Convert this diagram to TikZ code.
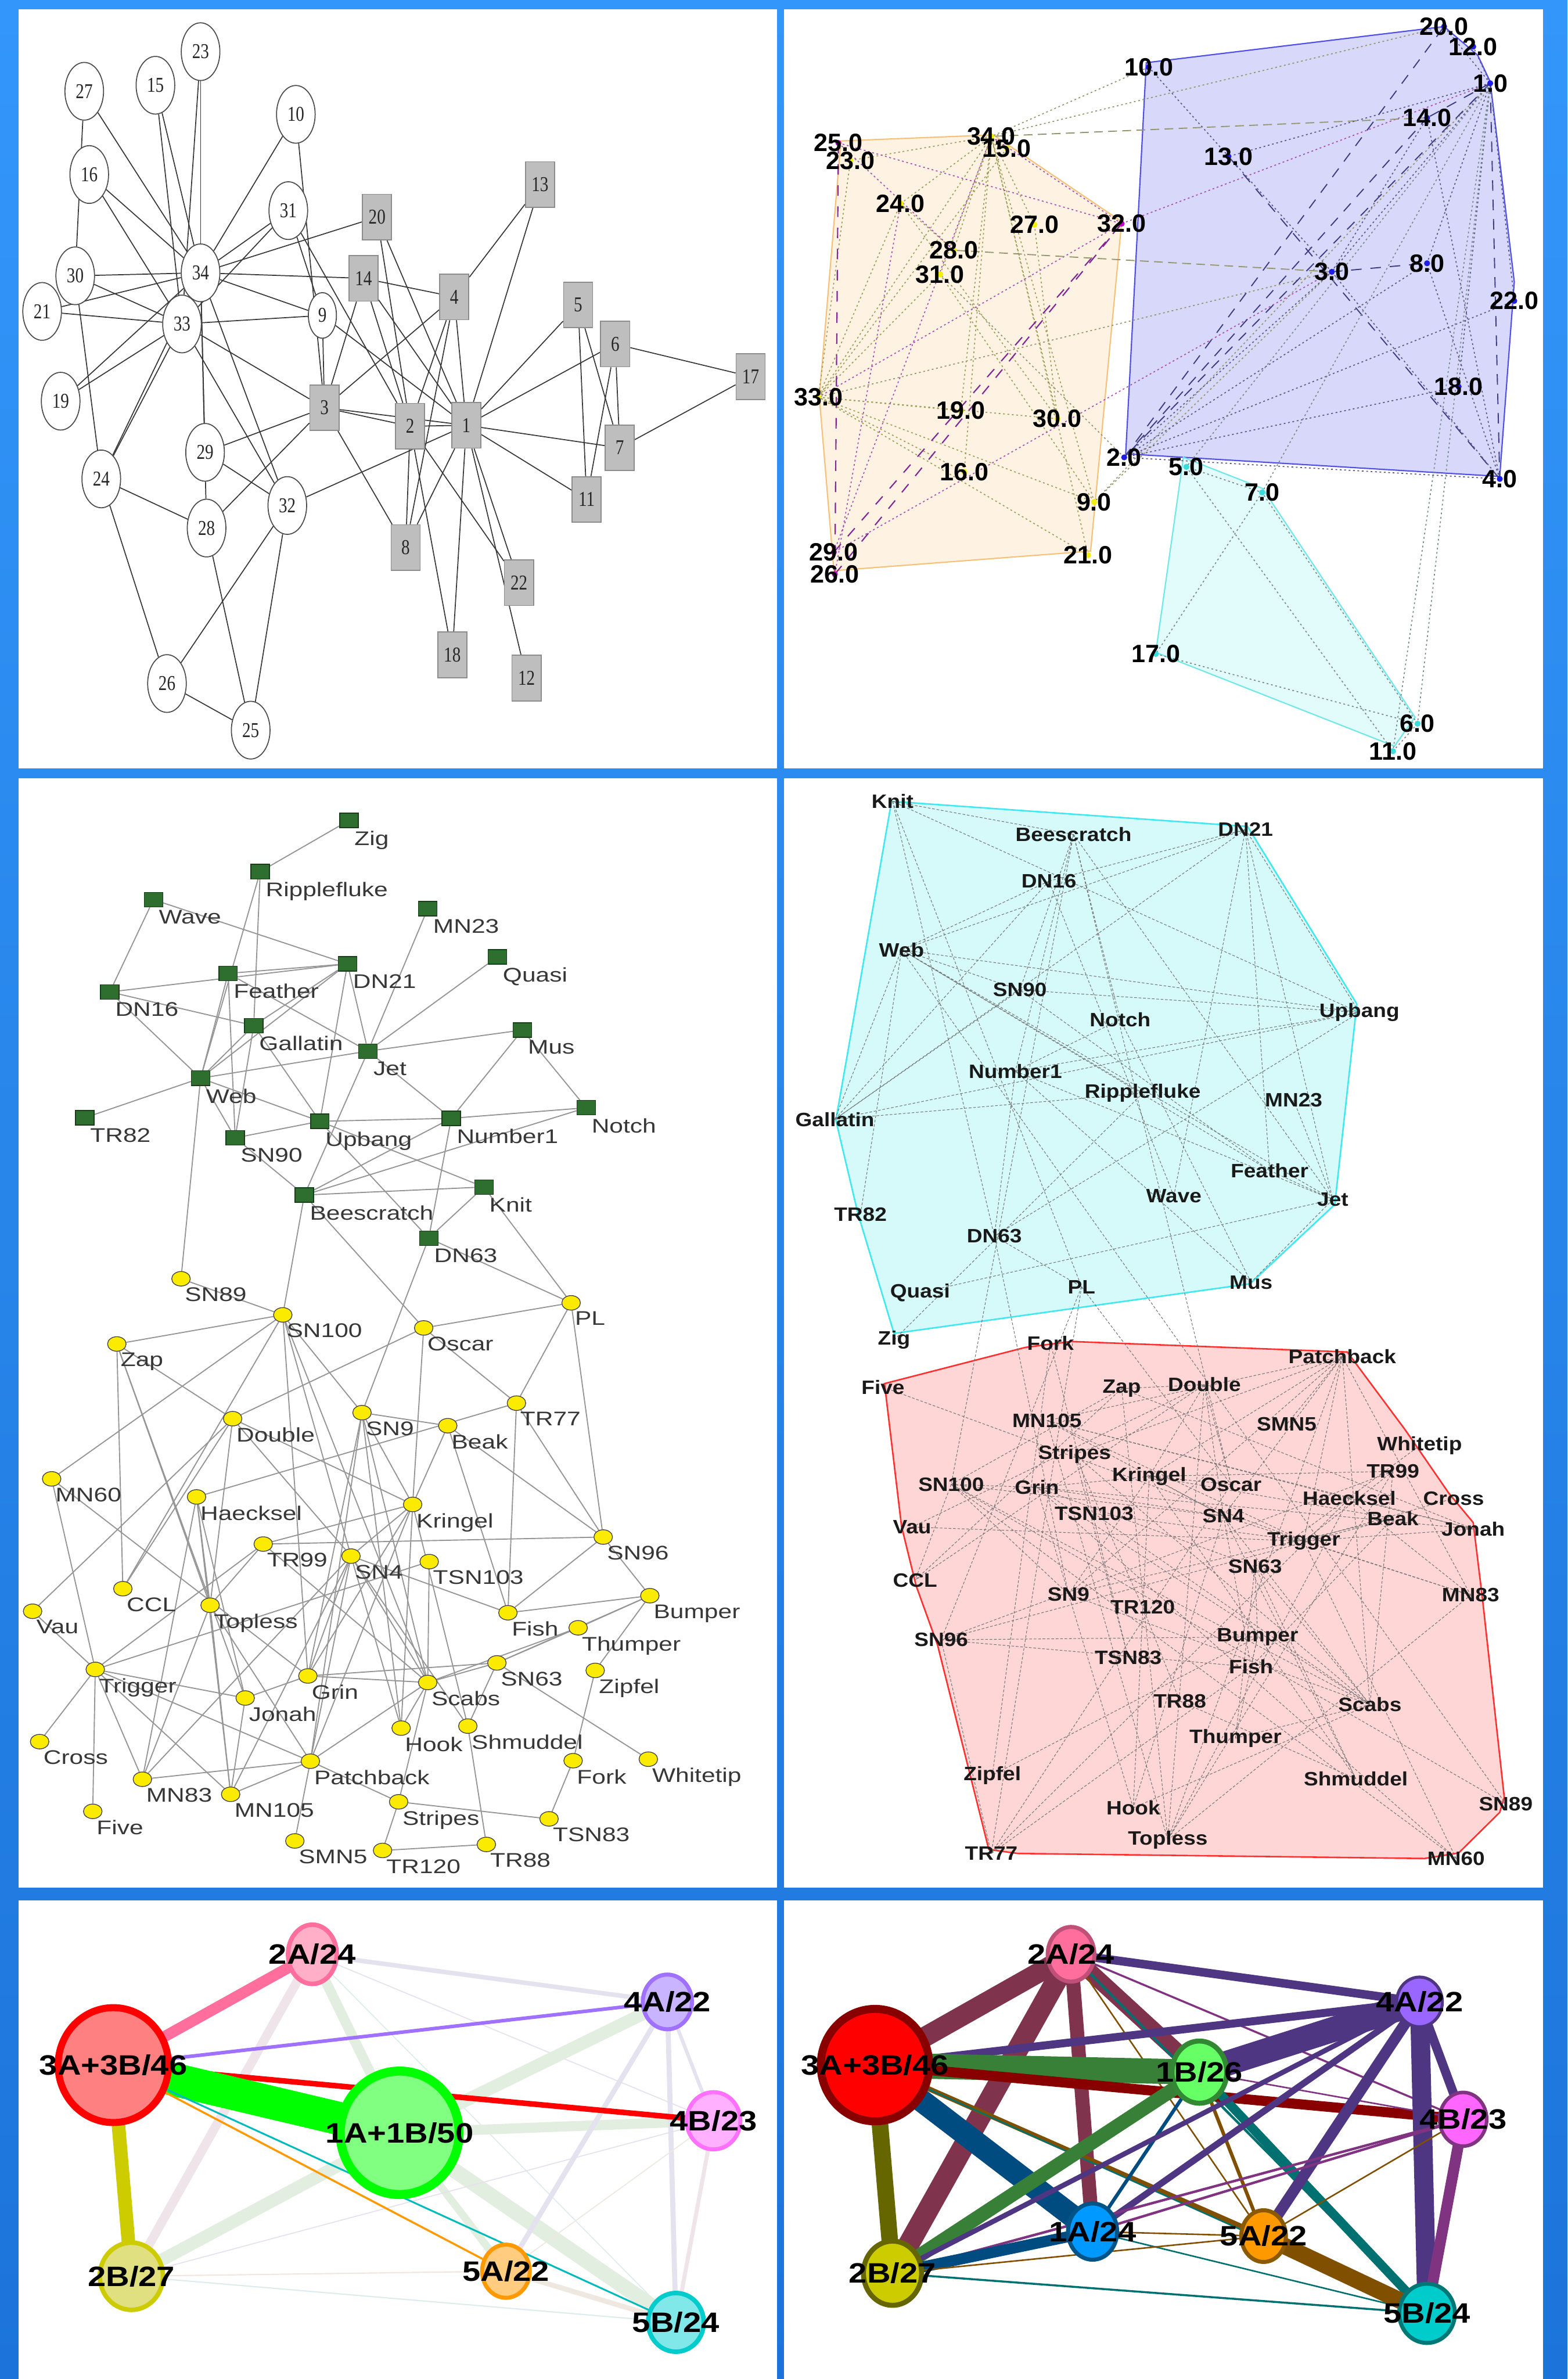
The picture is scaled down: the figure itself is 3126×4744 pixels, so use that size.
\documentclass[tikz,border=0pt]{standalone}
\usepackage{graphicx}
\usepackage{fontspec}
\setmainfont{Liberation Serif}
\setsansfont{Liberation Sans}
\usetikzlibrary{shapes.geometric}
\pgfdeclarelayer{back}
\pgfdeclarelayer{edges}
\pgfsetlayers{back,edges,main}

\newcommand\tlt[1]{\scalebox{0.8}[1]{#1}}
\newcommand\mlsq[1]{\scalebox{1}[0.8]{#1}}
\newcommand\mrsq[1]{\scalebox{1}[0.9]{#1}}
\newcommand\bsq[1]{\scalebox{1}[0.86]{#1}}

\definecolor{bgTop}{RGB}{51,150,250}
\definecolor{bgBot}{RGB}{28,116,218}
\definecolor{tlSq}{RGB}{190,190,190}
\definecolor{orFill}{RGB}{254,242,226}
\definecolor{orLine}{RGB}{246,194,122}
\definecolor{blFill}{RGB}{216,216,250}
\definecolor{blLine}{RGB}{80,80,232}
\definecolor{cyFill}{RGB}{226,251,251}
\definecolor{cyLine}{RGB}{112,232,232}
\definecolor{dotMag}{RGB}{200,0,200}
\definecolor{dotYel}{RGB}{240,240,0}
\definecolor{dotBlu}{RGB}{30,30,230}
\definecolor{dotCya}{RGB}{60,220,220}
\definecolor{mlGreen}{RGB}{46,110,46}
\definecolor{mlGreenD}{RGB}{25,60,25}
\definecolor{mlYel}{RGB}{250,235,0}
\definecolor{mlEdge}{RGB}{150,150,150}
\definecolor{mlText}{RGB}{55,55,55}
\definecolor{mrCyFill}{RGB}{214,250,250}
\definecolor{mrCyLine}{RGB}{64,232,240}
\definecolor{mrRdFill}{RGB}{255,214,214}
\definecolor{mrRdLine}{RGB}{255,48,48}
% bottom left, node colours
\definecolor{pinkL}{RGB}{255,176,200}
\definecolor{pinkD}{RGB}{255,110,156}
\definecolor{redL}{RGB}{255,128,128}
\definecolor{greenL}{RGB}{128,255,128}
\definecolor{purL}{RGB}{200,180,255}
\definecolor{purD}{RGB}{160,112,255}
\definecolor{magL}{RGB}{255,176,255}
\definecolor{magD}{RGB}{255,112,255}
\definecolor{olvL}{RGB}{224,224,128}
\definecolor{olvD}{RGB}{204,204,0}
\definecolor{orgL}{RGB}{255,204,128}
\definecolor{orgD}{RGB}{255,153,0}
\definecolor{cyaL}{RGB}{128,232,232}
\definecolor{cyaD}{RGB}{0,204,204}
\definecolor{cyaE}{RGB}{0,187,187}
\definecolor{fGreen}{RGB}{226,238,224}
\definecolor{fLav}{RGB}{228,226,238}
\definecolor{fPink}{RGB}{238,228,234}
\definecolor{fTan}{RGB}{238,232,224}
\definecolor{fCyan}{RGB}{222,236,238}
\definecolor{fPur}{RGB}{232,224,238}
% bottom right
\definecolor{maroon}{RGB}{127,51,77}
\definecolor{dPur}{RGB}{79,54,130}
\definecolor{dGrn}{RGB}{56,128,56}
\definecolor{dRed}{RGB}{136,0,0}
\definecolor{dBlu}{RGB}{0,76,128}
\definecolor{brown}{RGB}{128,80,0}
\definecolor{teal}{RGB}{0,112,112}
\definecolor{olive}{RGB}{102,102,0}
\definecolor{mag}{RGB}{128,51,128}
\definecolor{hotPink}{RGB}{255,110,156}
\definecolor{hotPinkD}{RGB}{192,80,120}
\definecolor{nbGreen}{RGB}{102,255,102}
\definecolor{nbGreenD}{RGB}{51,136,51}
\definecolor{nbPur}{RGB}{153,102,255}
\definecolor{nbMag}{RGB}{255,102,255}
\definecolor{nbBlue}{RGB}{0,153,255}
\definecolor{nbBlueD}{RGB}{0,85,136}
\definecolor{nbOrgD}{RGB}{139,90,0}
\definecolor{nbCyaD}{RGB}{0,119,119}

\newcommand\karate{1/2,1/3,1/4,1/5,1/6,1/7,1/8,1/9,1/11,1/12,1/13,1/14,1/18,1/20,1/22,1/32,
2/3,2/4,2/8,2/14,2/18,2/20,2/22,2/31,3/4,3/8,3/9,3/10,3/14,3/28,3/29,3/33,4/8,4/13,4/14,
5/7,5/11,6/7,6/11,6/17,7/17,9/31,9/33,9/34,10/34,14/34,15/33,15/34,16/33,16/34,19/33,19/34,
20/34,21/33,21/34,23/33,23/34,24/26,24/28,24/30,24/33,24/34,25/26,25/28,25/32,26/32,27/30,
27/34,28/34,29/32,29/34,30/33,30/34,31/33,31/34,32/33,32/34,33/34}

\newcommand\dolphins{Zig/Ripplefluke,Ripplefluke/Web,Ripplefluke/Gallatin,Wave/DN16,Wave/DN21,
DN16/DN21,DN16/Gallatin,DN16/Web,Feather/Jet,Feather/Web,Feather/SN90,Feather/DN21,DN21/Web,
DN21/Gallatin,DN21/Jet,DN21/Upbang,MN23/Jet,Quasi/Jet,Web/Jet,Jet/Mus,Mus/Number1,Mus/Notch,
Jet/Number1,Jet/Beescratch,Number1/Notch,Beescratch/Number1,Beescratch/Notch,Number1/DN63,
Gallatin/Upbang,Gallatin/Web,Gallatin/SN90,Web/Upbang,Web/SN90,Web/TR82,Web/SN89,SN90/Upbang,
SN90/Beescratch,Upbang/Number1,Upbang/DN63,Upbang/Knit,Beescratch/Knit,Beescratch/SN100,
Beescratch/Oscar,Knit/DN63,Knit/PL,DN63/PL,DN63/SN9,SN89/SN100,PL/Oscar,PL/TR77,PL/SN96,
SN100/Zap,SN100/MN60,SN100/CCL,SN100/SN9,SN100/SN4,SN100/Scabs,SN100/Grin,Oscar/Double,
Oscar/TR77,Oscar/Kringel,Zap/Double,Zap/CCL,Zap/Topless,Zap/Jonah,Double/Kringel,Double/SN4,
Double/CCL,Double/Topless,TR77/Haecksel,TR77/SN96,TR77/Fish,SN9/Beak,SN9/Kringel,SN9/Scabs,
SN9/Grin,SN9/Hook,SN9/Patchback,Beak/SN96,Beak/Kringel,Beak/Fish,MN60/Trigger,MN60/Grin,
Haecksel/Topless,Haecksel/MN83,Haecksel/MN105,Haecksel/Jonah,Kringel/TR99,Kringel/SN4,
Kringel/Grin,Kringel/Hook,Kringel/Patchback,Kringel/Shmuddel,TR99/SN96,TR99/Trigger,
TR99/Topless,TR99/Scabs,SN4/Grin,SN4/Scabs,SN4/Hook,SN4/Patchback,SN4/MN83,SN4/MN105,
SN4/Shmuddel,SN4/Fish,TSN103/Scabs,TSN103/Trigger,SN96/Fish,SN96/Bumper,Bumper/Fish,
Bumper/Thumper,Bumper/Zipfel,Bumper/SN63,Thumper/SN63,Thumper/Scabs,Zipfel/Fork,SN63/Grin,
SN63/Scabs,SN63/Whitetip,SN63/Shmuddel,Scabs/Grin,Scabs/Hook,Scabs/Patchback,Scabs/Stripes,
Fork/TSN83,Stripes/TSN83,Stripes/TR120,Stripes/Patchback,TR120/TR88,Patchback/SMN5,
Patchback/MN83,Patchback/MN105,Trigger/Vau,Trigger/Cross,Trigger/Five,Trigger/MN83,
Trigger/MN105,Trigger/Jonah,Trigger/Patchback,Vau/Double,Jonah/Grin,Topless/MN83,
Topless/MN105,Topless/Patchback,Shmuddel/TR88,Jonah/MN105}

\begin{document}
\begin{tikzpicture}[x=0.01cm,y=-0.01cm,
tlc/.style={ellipse,draw=black!70,fill=white,line width=0.02cm,minimum width=0.77cm,minimum height=1.15cm,inner sep=0pt,font=\fontsize{12}{12}\selectfont,text=black!85},
tls/.style={rectangle,draw=black!45,fill=tlSq,line width=0.02cm,minimum width=0.58cm,minimum height=0.91cm,inner sep=0pt,font=\fontsize{12}{12}\selectfont,text=black!85},
tledge/.style={draw=black!78,line width=0.02cm},
trlbl/.style={inner sep=0pt,font=\fontsize{14.2}{14.2}\selectfont\sffamily\bfseries},
trY/.style={draw={rgb,255:red,160;green,160;blue,90},line width=0.02cm,dash pattern=on 1pt off 1.5pt},
trM/.style={draw={rgb,255:red,170;green,80;blue,180},line width=0.02cm,dash pattern=on 1pt off 1.5pt},
trMd/.style={draw={rgb,255:red,130;green,40;blue,150},line width=0.025cm,dash pattern=on 6pt off 6pt},
trX/.style={draw={rgb,255:red,150;green,150;blue,110},line width=0.02cm,dash pattern=on 1pt off 1.5pt},
trXd/.style={draw={rgb,255:red,150;green,150;blue,110},line width=0.022cm,dash pattern=on 5pt off 3pt},
trB/.style={draw={rgb,255:red,90;green,90;blue,140},line width=0.02cm,dash pattern=on 1pt off 1.5pt},
trBd/.style={draw={rgb,255:red,60;green,60;blue,130},line width=0.022cm,dash pattern=on 6pt off 5pt},
trC/.style={draw={rgb,255:red,120;green,140;blue,140},line width=0.02cm,dash pattern=on 1pt off 1.5pt},
mlsq/.style={rectangle,draw=mlGreenD,fill=mlGreen,line width=0.015cm,minimum width=0.37cm,minimum height=0.29cm,inner sep=0pt},
mlci/.style={ellipse,draw=black!75,fill=mlYel,line width=0.015cm,minimum width=0.37cm,minimum height=0.29cm,inner sep=0pt},
mllbl/.style={inner sep=0pt,xshift=-0.05cm,yshift=-0.05cm,font=\fontsize{14}{14}\selectfont\sffamily,text=mlText},
mledge/.style={draw=mlEdge,line width=0.022cm},
mrlbl/.style={inner sep=0pt,font=\fontsize{12.2}{12.2}\selectfont\sffamily\bfseries,text=black!90},
mredge/.style={draw=black!55,line width=0.012cm,dash pattern=on 1.5pt off 1pt},
bn/.style={ellipse,inner sep=0pt},
btxt/.style={inner sep=0pt,font=\fontsize{18.5}{18.5}\selectfont\sffamily\bfseries}
]

\begin{pgfonlayer}{back}
\shade[top color=bgTop,bottom color=bgBot] (0,0) rectangle (3126,4744);
\fill[white] (37,18) rectangle (1550,1532);
\fill[white] (1564,18) rectangle (3077,1532);
\fill[white] (37,1552) rectangle (1550,3764);
\fill[white] (1564,1552) rectangle (3077,3764);
\fill[white] (37,3790) rectangle (1550,4744);
\fill[white] (1564,3790) rectangle (3077,4744);
% hulls, top right
\filldraw[fill=orFill,draw=orLine,line width=0.025cm] (1677,281) -- (1981,269) -- (2237,442) -- (2175,1099) -- (1663,1138) -- (1634,792) -- cycle;
\filldraw[fill=blFill,draw=blLine,line width=0.025cm] (2286,125) -- (2880,53) -- (2947,110) -- (2972,163) -- (3020,562) -- (2991,950) -- (2245,905) -- cycle;
\filldraw[fill=cyFill,draw=cyLine,line width=0.025cm] (2360,912) -- (2518,974) -- (2822,1430) -- (2781,1488) -- (2305,1301) -- cycle;
% hulls, middle right
\filldraw[fill=mrCyFill,draw=mrCyLine,line width=0.03cm] (1778,1598) -- (2488,1648) -- (2706,2002) -- (2662,2402) -- (2493,2560) -- (1783,2659) -- (1711,2420) -- (1667,2234) -- cycle;
\filldraw[fill=mrRdFill,draw=mrRdLine,line width=0.03cm] (1764,2759) -- (2044,2687) -- (2136,2675) -- (2687,2696) -- (2803,2852) -- (2889,2977) -- (2938,3036) -- (2957,3192) -- (3000,3584) -- (2991,3614) -- (2909,3695) -- (2841,3706) -- (2030,3696) -- (1972,3688) -- (1870,3281) -- (1827,3162) -- (1798,3044) -- cycle;
\end{pgfonlayer}

% top left
\foreach \n/\x/\y in {27/168/182,15/310/170,23/400/103,10/590/228,16/178/348,31/575/420,30/150/550,34/400/544,21/84/621,33/363/646,19/121/800,29/409/902,24/202/955,28/412/1053,32/573/1008,26/333/1363,25/500/1456}
  \node[tlc] (k\n) at (\x,\y) {\tlt{\n}};
\node[tlc,minimum width=0.56cm,minimum height=0.91cm] (k9) at (643,629) {\tlt{9}};
\foreach \n/\x/\y in {20/752/433,13/1077/368,14/725/555,4/906/592,5/1153/608,6/1227/686,17/1497/751,3/647/813,2/818/850,1/930/848,7/1236/893,11/1170/996,8/809/1092,22/1035/1162,18/902/1306,12/1050/1352}
  \node[tls] (k\n) at (\x,\y) {\tlt{\n}};
\begin{pgfonlayer}{edges}
\foreach \a/\b in \karate
  \draw[tledge] (k\a) -- (k\b);
\end{pgfonlayer}

% top right
\foreach \n/\x/\y in {1/2972/166,2/2242/912,3/2656/542,4/2991/955,5/2366/931,6/2827/1443,7/2517/982,8/2846/525,9/2182/1001,10/2291/134,11/2778/1498,12/2938/93,13/2450/312,14/2846/235,15/2008/296,16/1923/941,17/2305/1304,18/2909/771,19/1916/819,20/2880/53,21/2170/1107,22/3020/600,23/1696/320,24/1796/406,25/1672/285,26/1665/1145,27/2063/448,28/1902/499,29/1663/1101,30/2109/835,31/1875/547,32/2237/446,33/1632/792,34/1977/272}
  \node[trlbl] (t\n) at (\x,\y) {};
\foreach \n in {25,26,29,32} \fill[dotMag] (t\n.center) circle (0.06cm);
\foreach \n in {9,15,16,19,21,23,24,27,28,30,31,33,34} \fill[dotYel] (t\n.center) circle (0.06cm);
\foreach \n in {1,2,3,4,8,10,12,13,14,18,20,22} \fill[dotBlu] (t\n.center) circle (0.06cm);
\foreach \n in {5,6,7,11,17} \fill[dotCya] (t\n.center) circle (0.06cm);
\foreach \n in {1,...,34}
  \node[trlbl] (tl\n) at (t\n) {\n.0};
\begin{pgfonlayer}{edges}
\foreach \a/\b in {9/31,9/33,9/34,15/33,15/34,16/33,16/34,19/33,19/34,21/33,21/34,23/33,23/34,24/28,24/30,24/33,24/34,27/30,27/34,28/34,30/33,30/34,31/33,31/34,33/34}
  \draw[trY] (t\a.center) -- (t\b.center);
\foreach \a/\b in {24/26,25/28,25/32,29/34,32/33,32/34,1/32,3/29}
  \draw[trM] (t\a.center) -- (t\b.center);
\foreach \a/\b in {25/26,26/32,29/32}
  \draw[trMd] (t\a.center) -- (t\b.center);
\foreach \a/\b in {1/9,2/31,3/9,3/33,10/34,20/34}
  \draw[trX] (t\a.center) -- (t\b.center);
\foreach \a/\b in {3/28,14/34}
  \draw[trXd] (t\a.center) -- (t\b.center);
\foreach \a/\b in {1/2,2/14,1/4,3/8,4/13,2/20,1/14}
  \draw[trBd] (t\a.center) -- (t\b.center);
\foreach \a/\b in {1/3,1/8,1/12,1/13,1/18,1/20,1/22,2/3,2/4,2/8,2/18,2/22,3/4,3/10,3/14,4/8,4/14}
  \draw[trB] (t\a.center) -- (t\b.center);
\foreach \a/\b in {1/5,1/6,1/7,1/11,5/7,5/11,6/7,6/11,6/17,7/17}
  \draw[trC] (t\a.center) -- (t\b.center);
\end{pgfonlayer}

% middle left
\foreach \n/\x/\y in {Zig/696/1636,Ripplefluke/519/1738,Wave/306/1794,MN23/853/1812,Quasi/992/1908,DN21/693/1922,Feather/455/1941,DN16/219/1978,Gallatin/506/2045,Jet/734/2096,Mus/1042/2054,Web/400/2150,TR82/169/2229,Upbang/638/2236,SN90/469/2269,Number1/900/2230,Notch/1169/2209,Beescratch/607/2383,Knit/965/2367,DN63/855/2469}
  \node[mlsq,label={[mllbl]below right:\mlsq{\n}}] (a\n) at (\x,\y) {};
\foreach \n/\x/\y in {SN89/361/2550,PL/1139/2598,SN100/564/2622,Oscar/845/2648,Zap/233/2680,TR77/1030/2798,SN9/722/2817,Double/464/2829,Beak/893/2843,MN60/103/2949,Haecksel/392/2985,Kringel/823/3000,SN96/1203/3065,TR99/525/3079,SN4/700/3103,TSN103/856/3114,CCL/245/3168,Bumper/1296/3182,Vau/65/3213,Topless/419/3201,Fish/1013/3216,Thumper/1153/3246,Trigger/190/3329,Grin/614/3342,Scabs/853/3355,SN63/991/3316,Zipfel/1187/3331,Jonah/489/3386,Hook/800/3446,Shmuddel/933/3442,Cross/79/3473,Patchback/619/3512,Fork/1143/3511,Whitetip/1293/3508,MN83/284/3548,MN105/460/3578,Stripes/795/3593,Five/185/3612,TSN83/1095/3627,SMN5/588/3671,TR120/763/3690,TR88/970/3678}
  \node[mlci,label={[mllbl]below right:\mlsq{\n}}] (a\n) at (\x,\y) {};
\begin{pgfonlayer}{edges}
\foreach \a/\b in \dolphins
  \draw[mledge] (a\a) -- (a\b);
\end{pgfonlayer}

% middle right
\foreach \n/\x/\y in {Knit/1780/1598,Beescratch/2141/1664,DN21/2484/1654,DN16/2092/1757,Web/1798/1894,SN90/2034/1974,Upbang/2711/2019,Notch/2234/2033,Number1/2025/2136,Ripplefluke/2279/2180,MN23/2580/2194,Gallatin/1665/2232,Feather/2532/2334,Wave/2341/2385,Jet/2658/2392,TR82/1716/2422,DN63/1983/2465,Quasi/1835/2578,PL/2157/2566,Mus/2495/2557,Zig/1783/2672,Fork/2095/2678,Patchback/2677/2705,Five/1761/2766,Zap/2237/2769,Double/2402/2761,MN105/2088/2833,SMN5/2566/2840,Whitetip/2831/2883,Stripes/2143/2900,TR99/2778/2934,SN100/1897/2960,Grin/2068/2966,Kringel/2292/2944,Oscar/2455/2960,Haecksel/2691/2988,Cross/2899/2988,TSN103/2182/3018,SN4/2440/3023,Vau/1819/3045,Beak/2778/3028,Jonah/2938/3049,Trigger/2600/3073,SN63/2503/3124,CCL/1825/3151,MN83/2933/3181,SN9/2131/3179,TR120/2279/3205,SN96/1877/3270,Bumper/2508/3264,TSN83/2250/3306,Fish/2495/3324,TR88/2353/3392,Scabs/2732/3399,Thumper/2464/3466,Shmuddel/2704/3547,Zipfel/1979/3540,Hook/2260/3605,SN89/3003/3597,Topless/2329/3669,TR77/1977/3696,MN60/2904/3706}
  \node[mrlbl] (b\n) at (\x,\y) {\mrsq{\n}};
\begin{pgfonlayer}{edges}
\foreach \a/\b in \dolphins
  \draw[mredge] (b\a.center) -- (b\b.center);
\end{pgfonlayer}

% bottom left
\node[bn,minimum width=0.97cm,minimum height=1.18cm,line width=0.09cm,draw=pinkD,fill=pinkL,label={[btxt]center:\bsq{2A/24}}] (l2A) at (623,3897) {};
\node[bn,minimum width=2.20cm,minimum height=2.29cm,line width=0.14cm,draw=red,fill=redL,label={[btxt]center:\bsq{3A+3B/46}}] (l3A) at (226,4118) {};
\node[bn,minimum width=2.37cm,minimum height=2.46cm,line width=0.18cm,draw=green,fill=greenL,label={[btxt]center:\bsq{1A+1B/50}}] (l1A) at (797,4253) {};
\node[bn,minimum width=0.98cm,minimum height=1.09cm,line width=0.08cm,draw=purD,fill=purL,label={[btxt]center:\bsq{4A/22}}] (l4A) at (1331,3992) {};
\node[bn,minimum width=1.07cm,minimum height=1.14cm,line width=0.08cm,draw=magD,fill=magL,label={[btxt]center:\bsq{4B/23}}] (l4B) at (1423,4229) {};
\node[bn,minimum width=1.26cm,minimum height=1.34cm,line width=0.09cm,draw=olvD,fill=olvL,label={[btxt]center:\bsq{2B/27}}] (l2B) at (262,4539) {};
\node[bn,minimum width=0.95cm,minimum height=1.06cm,line width=0.08cm,draw=orgD,fill=orgL,label={[btxt]center:\bsq{5A/22}}] (l5A) at (1009,4529) {};
\node[bn,minimum width=1.11cm,minimum height=1.17cm,line width=0.09cm,draw=cyaD,fill=cyaL,label={[btxt]center:\bsq{5B/24}}] (l5B) at (1348,4631) {};
\begin{pgfonlayer}{edges}
% faint ones first
\draw[fLav,line width=0.09cm] (l2A.center) -- (l4A.center);
\draw[fPink,line width=0.18cm] (l2A.center) -- (l2B.center);
\draw[fGreen,line width=0.2cm] (l2A.center) -- (l1A.center);
\draw[fPur,line width=0.02cm] (l2A.center) -- (l4B.center);
\draw[fCyan,line width=0.02cm] (l2A.center) -- (l5B.center);
\draw[fGreen,line width=0.25cm] (l1A.center) -- (l4A.center);
\draw[fGreen,line width=0.2cm] (l1A.center) -- (l4B.center);
\draw[fGreen,line width=0.3cm] (l1A.center) -- (l5B.center);
\draw[fGreen,line width=0.25cm] (l1A.center) -- (l2B.center);
\draw[fGreen,line width=0.15cm] (l1A.center) -- (l5A.center);
\draw[fLav,line width=0.1cm] (l4A.center) -- (l5A.center);
\draw[fLav,line width=0.1cm] (l4A.center) -- (l5B.center);
\draw[fLav,line width=0.07cm] (l4A.center) -- (l4B.center);
\draw[fPink,line width=0.08cm] (l4B.center) -- (l5B.center);
\draw[fPur,line width=0.02cm] (l4B.center) -- (l2B.center);
\draw[fTan,line width=0.02cm] (l4B.center) -- (l5A.center);
\draw[fTan,line width=0.025cm] (l2B.center) -- (l5A.center);
\draw[fCyan,line width=0.025cm] (l2B.center) -- (l5B.center);
\draw[fTan,line width=0.1cm] (l5A.center) -- (l5B.center);
% strong ones
\draw[pinkD,line width=0.22cm] (l3A.center) -- (l2A.center);
\draw[purD,line width=0.07cm] (l3A.center) -- (l4A.center);
\draw[red,line width=0.11cm] (l3A.center) -- (l4B.center);
\draw[green,line width=0.66cm] (l3A.center) -- (l1A.center);
\draw[olvD,line width=0.27cm] (l3A.center) -- (l2B.center);
\draw[orgD,line width=0.04cm] (l3A.center) -- (l5A.center);
\draw[cyaE,line width=0.035cm] (l3A.center) -- (l5B.center);
\end{pgfonlayer}

% bottom right
\node[bn,minimum width=0.93cm,minimum height=1.09cm,line width=0.08cm,draw=hotPinkD,fill=hotPink,label={[btxt]center:\bsq{2A/24}}] (r2A) at (2136,3897) {};
\node[bn,minimum width=2.16cm,minimum height=2.24cm,line width=0.16cm,draw=dRed,fill=red,label={[btxt]center:\bsq{3A+3B/46}}] (r3A) at (1745,4118) {};
\node[bn,minimum width=1.09cm,minimum height=1.24cm,line width=0.1cm,draw=nbGreenD,fill=nbGreen,label={[btxt]center:\bsq{1B/26}}] (r1B) at (2392,4132) {};
\node[bn,minimum width=0.91cm,minimum height=0.99cm,line width=0.06cm,draw=dPur,fill=nbPur,label={[btxt]center:\bsq{4A/22}}] (r4A) at (2831,3992) {};
\node[bn,minimum width=0.94cm,minimum height=1.07cm,line width=0.07cm,draw=mag,fill=nbMag,label={[btxt]center:\bsq{4B/23}}] (r4B) at (2918,4226) {};
\node[bn,minimum width=0.98cm,minimum height=1.12cm,line width=0.08cm,draw=nbBlueD,fill=nbBlue,label={[btxt]center:\bsq{1A/24}}] (r1A) at (2179,4450) {};
\node[bn,minimum width=0.89cm,minimum height=1.03cm,line width=0.08cm,draw=nbOrgD,fill=orgD,label={[btxt]center:\bsq{5A/22}}] (r5A) at (2520,4459) {};
\node[bn,minimum width=1.16cm,minimum height=1.28cm,line width=0.1cm,draw=olive,fill=olvD,label={[btxt]center:\bsq{2B/27}}] (r2B) at (1780,4533) {};
\node[bn,minimum width=1.11cm,minimum height=1.18cm,line width=0.08cm,draw=nbCyaD,fill=cyaD,label={[btxt]center:\bsq{5B/24}}] (r5B) at (2846,4613) {};
\begin{pgfonlayer}{edges}
\draw[maroon,line width=0.40cm] (r3A.center) -- (r2A.center);
\draw[maroon,line width=0.42cm] (r2A.center) -- (r2B.center);
\draw[maroon,line width=0.28cm] (r2A.center) -- (r1A.center);
\draw[maroon,line width=0.33cm] (r2A.center) -- (r1B.center);
\draw[dPur,line width=0.17cm] (r2A.center) -- (r4A.center);
\draw[mag,line width=0.04cm] (r2A.center) -- (r4B.center);
\draw[brown,line width=0.03cm] (r2A.center) -- (r5A.center);
\draw[teal,line width=0.05cm] (r2A.center) -- (r5B.center);
\draw[dPur,line width=0.16cm] (r3A.center) -- (r4A.center);
\draw[dGrn,line width=0.50cm] (r3A.center) -- (r1B.center);
\draw[dRed,line width=0.20cm] (r3A.center) -- (r4B.center);
\draw[dBlu,line width=0.45cm] (r3A.center) -- (r1A.center);
\draw[brown,line width=0.10cm] (r3A.center) -- (r5A.center);
\draw[teal,line width=0.03cm] (r3A.center) -- (r5B.center);
\draw[olive,line width=0.33cm] (r3A.center) -- (r2B.center);
\draw[dGrn,line width=0.28cm] (r1B.center) -- (r2B.center);
\draw[dPur,line width=0.50cm] (r1B.center) -- (r4A.center);
\draw[dBlu,line width=0.07cm] (r1B.center) -- (r1A.center);
\draw[brown,line width=0.07cm] (r1B.center) -- (r5A.center);
\draw[teal,line width=0.18cm] (r1B.center) -- (r5B.center);
\draw[mag,line width=0.03cm] (r1B.center) -- (r4B.center);
\draw[dPur,line width=0.10cm] (r4A.center) -- (r2B.center);
\draw[dPur,line width=0.13cm] (r4A.center) -- (r1A.center);
\draw[dPur,line width=0.22cm] (r4A.center) -- (r5A.center);
\draw[dPur,line width=0.38cm] (r4A.center) -- (r5B.center);
\draw[dPur,line width=0.18cm] (r4A.center) -- (r4B.center);
\draw[mag,line width=0.22cm] (r4B.center) -- (r5B.center);
\draw[mag,line width=0.05cm] (r4B.center) -- (r1A.center);
\draw[mag,line width=0.05cm] (r4B.center) -- (r2B.center);
\draw[brown,line width=0.03cm] (r4B.center) -- (r5A.center);
\draw[dBlu,line width=0.22cm] (r1A.center) -- (r2B.center);
\draw[brown,line width=0.03cm] (r1A.center) -- (r5A.center);
\draw[teal,line width=0.03cm] (r1A.center) -- (r5B.center);
\draw[brown,line width=0.03cm] (r2B.center) -- (r5A.center);
\draw[teal,line width=0.04cm] (r2B.center) -- (r5B.center);
\draw[brown,line width=0.33cm] (r5A.center) -- (r5B.center);
\end{pgfonlayer}

\end{tikzpicture}
\end{document}
